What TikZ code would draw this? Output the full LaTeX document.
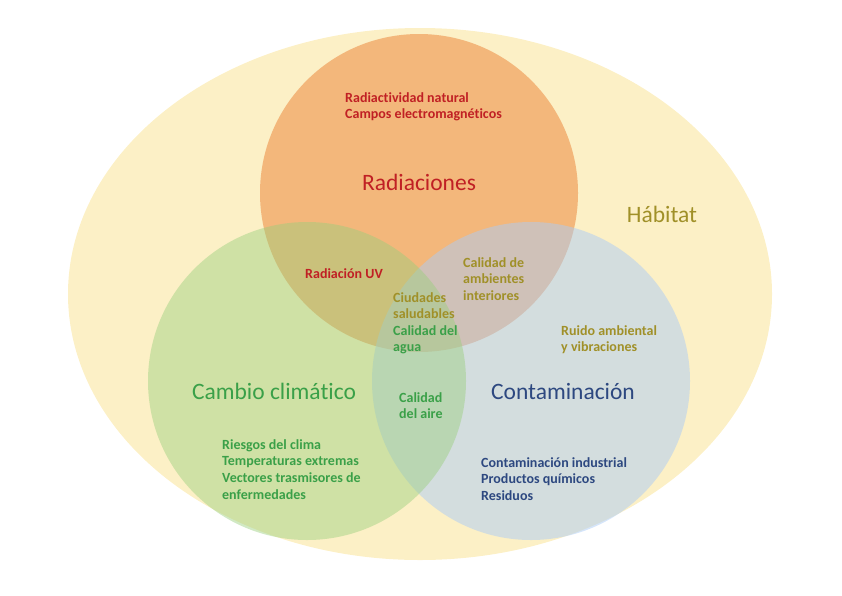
\documentclass[tikz,border=0pt]{standalone}
\usepackage{fontspec}
\setmainfont[Ligatures={NoCommon}]{Carlito}
\usepackage{tikz}
\usetikzlibrary{shapes.geometric,positioning}
\definecolor{habfill}{RGB}{252,240,198}
\definecolor{radfill}{RGB}{243,183,123}
\definecolor{confill}{RGB}{172,204,246}
\definecolor{camfill}{RGB}{154,207,125}
\definecolor{radtext}{RGB}{192,32,36}
\definecolor{habtext}{RGB}{160,144,40}
\definecolor{camtext}{RGB}{58,160,72}
\definecolor{context}{RGB}{45,72,128}

\begin{document}
\begin{tikzpicture}[
  x=1pt, y=-1pt,
  set/.style={circle, minimum size=318pt, inner sep=0pt},
  title/.style={font=\fontsize{23.5}{26}\selectfont},
  item/.style={anchor=north west, inner sep=0pt, align=left, font=\fontsize{14}{16.7}\selectfont\bfseries}
]
\useasboundingbox (0,0) rectangle (842,595);
% sets
\node[ellipse, fill=habfill, minimum width=704pt, minimum height=532pt, inner sep=0pt] (hab) at (420,294) {};
\node[set, fill=radfill] (rad) at (419,193) {};
\node[set, fill=confill, fill opacity=0.5] (con) at (531,381) {};
\node[set, fill=camfill, fill opacity=0.45] (cam) at (307,381) {};

% titles
\node[title, text=radtext] (radt) at (419,182) {Radiaciones};
\node[title, text=habtext] (habt) at (662,214) {Hábitat};
\node[title, text=camtext] (camt) at (274,391) {Cambio climático};
\node[title, text=context] (cont) at (563,391) {Contaminación};

% items
\node[item, text=radtext] (radi) at (345,92) {Radiactividad natural\\Campos electromagnéticos};
\node[item, text=radtext] (uv) at (305,268) {Radiación UV};
\node[item, text=habtext] (inter) at (463,257) {Calidad de\\ambientes\\interiores};
\node[item, text=habtext] (ciud) at (393,292) {Ciudades\\saludables};
\node[item, text=camtext] (agua) at (393,325) {Calidad del\\agua};
\node[item, text=habtext] (ruido) at (561,325) {Ruido ambiental\\y vibraciones};
\node[item, text=camtext] (aire) at (399,392) {Calidad\\del aire};
\node[item, text=camtext] (cami) at (222,439) {Riesgos del clima\\Temperaturas extremas\\Vectores trasmisores de\\enfermedades};
\node[item, text=context] (coni) at (481,457) {Contaminación industrial\\Productos químicos\\Residuos};
\end{tikzpicture}
\end{document}
